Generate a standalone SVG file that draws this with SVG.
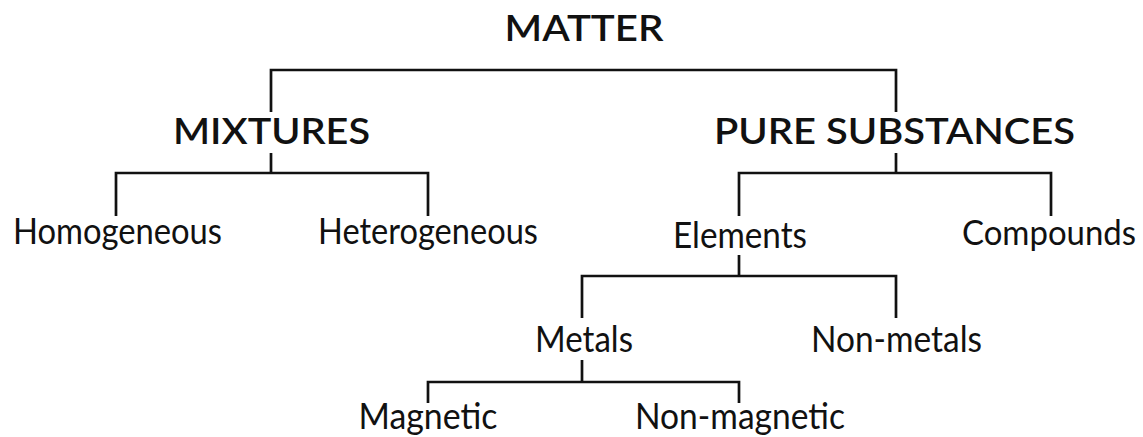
<svg xmlns="http://www.w3.org/2000/svg" width="1143" height="437" viewBox="0 0 1143 437">
  <style>
    .hdr { font-family: Lato, "Open Sans", "Liberation Sans", sans-serif; font-size: 36px; font-weight: 600; fill: #111; text-anchor: middle; }
    .lbl { font-family: Lato, "Open Sans", "Liberation Sans", sans-serif; font-size: 36px; font-weight: 400; fill: #111; text-anchor: middle; }
    .conn { fill: none; stroke: #111; stroke-width: 2.7; stroke-linecap: butt; stroke-linejoin: miter; }
  </style>
  <rect width="1143" height="437" fill="#fff"/>
  <g id="connectors">
    <path class="conn" d="M271,112 V70 H896 V112"/>
    <path class="conn" d="M271,153 V173"/>
    <path class="conn" d="M116,216 V173 H428 V216"/>
    <path class="conn" d="M896,153 V173"/>
    <path class="conn" d="M739,216 V173 H1051 V216"/>
    <path class="conn" d="M739,255 V276"/>
    <path class="conn" d="M582,318 V276 H896 V318"/>
    <path class="conn" d="M582,360 V382"/>
    <path class="conn" d="M428,403 V382 H739 V403"/>
  </g>
  <g id="matter"><text class="hdr" x="584" y="41" textLength="159" lengthAdjust="spacingAndGlyphs">MATTER</text></g>
  <g id="mixtures"><text class="hdr" x="271.5" y="144" textLength="197" lengthAdjust="spacingAndGlyphs">MIXTURES</text></g>
  <g id="pure-substances"><text class="hdr" x="894.5" y="144" textLength="361" lengthAdjust="spacingAndGlyphs">PURE SUBSTANCES</text></g>
  <g id="homogeneous"><text class="lbl" x="117.5" y="244" textLength="209" lengthAdjust="spacingAndGlyphs">Homogeneous</text></g>
  <g id="heterogeneous"><text class="lbl" x="428" y="244" textLength="220" lengthAdjust="spacingAndGlyphs">Heterogeneous</text></g>
  <g id="elements"><text class="lbl" x="740" y="248" textLength="134" lengthAdjust="spacingAndGlyphs">Elements</text></g>
  <g id="compounds"><text class="lbl" x="1049" y="245" style="font-size:34px" textLength="174" lengthAdjust="spacingAndGlyphs">Compounds</text></g>
  <g id="metals"><text class="lbl" x="584" y="352" textLength="98" lengthAdjust="spacingAndGlyphs">Metals</text></g>
  <g id="non-metals"><text class="lbl" x="896.5" y="352" textLength="171" lengthAdjust="spacingAndGlyphs">Non-metals</text></g>
  <g id="magnetic"><text class="lbl" x="428" y="429" textLength="139" lengthAdjust="spacingAndGlyphs">Magnetic</text></g>
  <g id="non-magnetic"><text class="lbl" x="740" y="429" textLength="210" lengthAdjust="spacingAndGlyphs">Non-magnetic</text></g>
</svg>
